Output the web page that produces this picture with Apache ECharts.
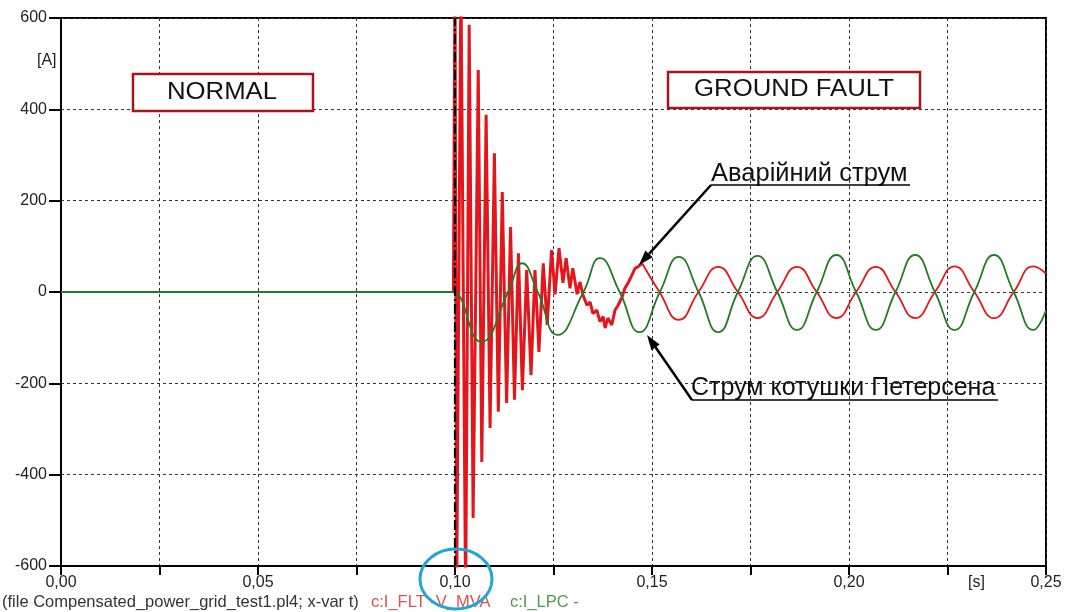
<!DOCTYPE html>
<html><head><meta charset="utf-8">
<script src="https://cdn.jsdelivr.net/npm/echarts@6/dist/echarts.min.js"></script>
<style>html,body{margin:0;padding:0;background:#fff;}#c{width:1068px;height:612px;}</style>
</head><body><div id="c"></div>
<script>
// ---- data ----
const xTickLabels = ['0,00', '0,05', '0,10', '0,15', '0,20', '0,25'];
const yTickLabels = ['-600', '-400', '-200', '0', '200', '400', '600'];
const xUnit = '[s]';
const yUnit = '[A]';
const faultLineT = 0.0992;

// I_FLT: transient (straight segments); before the fault it lies at 0 under I_LPC
const fltSpikeT = [0.0996, 0.0998, 0.1000, 0.1004, 0.1015, 0.1027, 0.1036, 0.1046, 0.1059, 0.1068, 0.1079, 0.1089, 0.1100, 0.1110, 0.1120, 0.1131, 0.1141, 0.1151, 0.1161, 0.1171, 0.1182, 0.1193, 0.1203, 0.1213, 0.1224, 0.1234, 0.1245, 0.1254, 0.1264, 0.1274, 0.1282, 0.1292, 0.1299, 0.1310, 0.1317, 0.1325, 0.1335, 0.1343, 0.1350, 0.1360, 0.1368, 0.1376, 0.1381, 0.1388, 0.1398, 0.1406, 0.1414, 0.1424, 0.1431, 0.1439, 0.1449, 0.1457, 0.1464, 0.1475];
const fltSpikeV = [0, 0, 700, -700, 700, -680, 585, -495, 486, -372, 388, -298, 304, -262, 219, -243, 142, -236, 85, -215, 48, -182, 48, -131, 63, -72, 92, -5, 96, 20, 74, 8, 52, -5, 22, -7, -29, -22, -47, -40, -65, -54, -79, -57, -72, -40, -29, -11, 8, 19, 37, 52, 55, 63];
// I_FLT: steady part (peaks, troughs, zero crossings)
const fltWaveT = [0.1475, 0.1519, 0.1568, 0.1618, 0.1668, 0.1718, 0.1768, 0.1818, 0.1868, 0.1918, 0.1968, 0.2018, 0.2068, 0.2118, 0.2168, 0.2218, 0.2268, 0.2318, 0.2368, 0.2418, 0.2468, 0.2500];
const fltWaveV = [63, 0, -61, 0, 55, 0, -57, 0, 55, 0, -57, 0, 55, 0, -57, 0, 56, 0, -57, 0, 56, 40];
// I_LPC (Petersen coil)
const lpcT = [0, 0.0990, 0.0995, 0.1066, 0.1135, 0.1170, 0.1210, 0.1260, 0.1326, 0.1368, 0.1418, 0.1468, 0.1520, 0.1568, 0.1618, 0.1668, 0.1718, 0.1768, 0.1818, 0.1868, 0.1918, 0.1968, 0.2018, 0.2068, 0.2118, 0.2168, 0.2218, 0.2268, 0.2318, 0.2368, 0.2418, 0.2468, 0.2500];
const lpcV = [0, 0, 0, -109, 0, 63, 0, -94, 0, 74, 0, -88, 0, 77, 0, -88, 0, 79, 0, -83, 0, 81, 0, -83, 0, 81, 0, -83, 0, 81, 0, -83, -40];

const fileText = '(file Compensated_power_grid_test1.pl4; x-var t)';
const fltName = 'c:I_FLT -V_MVA';
const lpcName = 'c:I_LPC -';
const normalText = 'NORMAL';
const faultText = 'GROUND FAULT';
const faultCurrentText = 'Аварійний струм';
const coilCurrentText = 'Струм котушки Петерсена';

// ---- chart ----
const zip = (t, v) => t.map((x, i) => [x, v[i]]);
const RED = '#e3161c', GREEN = '#257a25';
const FONT = '"Liberation Sans", Arial, sans-serif';

function arrow(x1, y1, x2, y2) {
  const dx = x2 - x1, dy = y2 - y1, L = Math.hypot(dx, dy);
  const ux = dx / L, uy = dy / L, nx = -uy, ny = ux;
  const hl = 15, hw = 5;
  const bx = x2 - ux * hl, by = y2 - uy * hl;
  return [
    { type: 'line', z: 120, shape: { x1: x1, y1: y1, x2: bx, y2: by }, style: { stroke: '#000', lineWidth: 2.5 } },
    { type: 'polygon', z: 120, shape: { points: [[x2, y2], [bx + nx * hw, by + ny * hw], [bx - nx * hw, by - ny * hw]] }, style: { fill: '#000' } }
  ];
}

const chart = echarts.init(document.getElementById('c'));
chart.setOption({
  animation: false,
  backgroundColor: '#fff',
  grid: { left: 61, right: 22, top: 18, bottom: 46, show: true, borderColor: '#000', borderWidth: 2 },
  xAxis: {
    type: 'value', min: 0, max: 0.25, interval: 0.025,
    axisLine: { onZero: false, lineStyle: { color: '#000', width: 2 } },
    axisTick: { show: true, length: 9, lineStyle: { color: '#000', width: 2 } },
    axisLabel: {
      margin: 9, color: '#222', fontSize: 16, fontFamily: FONT,
      formatter: function (v) {
        const k = Math.round(v * 1000);
        if (k % 50 === 0) return xTickLabels[k / 50];
        return '';
      }
    },
    splitLine: { show: true, lineStyle: { color: '#333', width: 1, type: [3, 3] } }
  },
  yAxis: {
    type: 'value', min: -600, max: 600, interval: 200,
    axisLine: { show: true, onZero: false, lineStyle: { color: '#000', width: 2 } },
    axisTick: { show: true, length: 12, lineStyle: { color: '#000', width: 2 } },
    axisLabel: {
      margin: 14, color: '#222', fontSize: 16, fontFamily: FONT,
      formatter: function (v) { return yTickLabels[Math.round((v + 600) / 200)]; }
    },
    splitLine: { show: true, lineStyle: { color: '#333', width: 1, type: [3, 3] } }
  },
  series: [
    {
      type: 'line', name: fltName, data: zip(fltSpikeT, fltSpikeV), showSymbol: false, smooth: false,
      lineStyle: { color: RED, width: 3 }, itemStyle: { color: RED }, z: 2,
      markLine: {
        silent: true, symbol: 'none', label: { show: false },
        lineStyle: { color: '#000', width: 2.2, type: [10, 3, 2, 3] },
        data: [{ xAxis: faultLineT }]
      }
    },
    {
      type: 'line', name: fltName + ' ', data: zip(fltWaveT, fltWaveV), showSymbol: false, smooth: true,
      lineStyle: { color: RED, width: 1.8 }, itemStyle: { color: RED }, z: 2
    },
    {
      type: 'line', name: lpcName, data: zip(lpcT, lpcV), showSymbol: false, smooth: true,
      lineStyle: { color: GREEN, width: 1.8 }, itemStyle: { color: GREEN }, z: 3
    }
  ],
  graphic: [
    { type: 'text', z: 100, left: 37, top: 53, style: { text: yUnit, font: '16px ' + FONT, fill: '#222' } },
    { type: 'text', z: 100, left: 968, top: 575, style: { text: xUnit, font: '16px ' + FONT, fill: '#222' } },
    { type: 'text', z: 100, left: 2, top: 594, style: { text: fileText, font: '16.5px ' + FONT, fill: '#333' } },
    { type: 'text', z: 100, left: 371, top: 594, style: { text: fltName, font: '16.5px ' + FONT, fill: '#e05050' } },
    { type: 'text', z: 100, left: 510, top: 594, style: { text: lpcName, font: '16.5px ' + FONT, fill: '#4a9a4a' } },
    { type: 'rect', z: 110, shape: { x: 133, y: 74, width: 180, height: 37 }, style: { fill: '#fff', stroke: '#a3161c', lineWidth: 2.5 } },
    { type: 'text', z: 111, x: 222, y: 93, scaleX: 1.12, style: { text: normalText, font: '23px ' + FONT, fill: '#111', align: 'center', verticalAlign: 'middle' } },
    { type: 'rect', z: 110, shape: { x: 668, y: 72, width: 252, height: 36 }, style: { fill: '#fff', stroke: '#a3161c', lineWidth: 2.5 } },
    { type: 'text', z: 111, x: 794, y: 90, scaleX: 1.12, style: { text: faultText, font: '23px ' + FONT, fill: '#111', align: 'center', verticalAlign: 'middle' } },
    { type: 'text', z: 111, x: 711, y: 174, style: { text: faultCurrentText, font: '25.5px ' + FONT, fill: '#111', align: 'left', verticalAlign: 'middle' } },
    { type: 'line', z: 111, shape: { x1: 711, y1: 185, x2: 910, y2: 185 }, style: { stroke: '#000', lineWidth: 1.5 } },
    { type: 'text', z: 111, x: 691, y: 388, style: { text: coilCurrentText, font: '25px ' + FONT, fill: '#111', align: 'left', verticalAlign: 'middle' } },
    { type: 'line', z: 111, shape: { x1: 692, y1: 400, x2: 998, y2: 400 }, style: { stroke: '#000', lineWidth: 1.5 } },
    ...arrow(711, 185, 639, 265),
    ...arrow(692, 400, 647, 335),
    { type: 'ellipse', z: 130, shape: { cx: 456, cy: 579, rx: 36, ry: 30 }, style: { fill: 'none', stroke: '#1fa6d8', lineWidth: 3 } }
  ]
});
</script></body></html>
